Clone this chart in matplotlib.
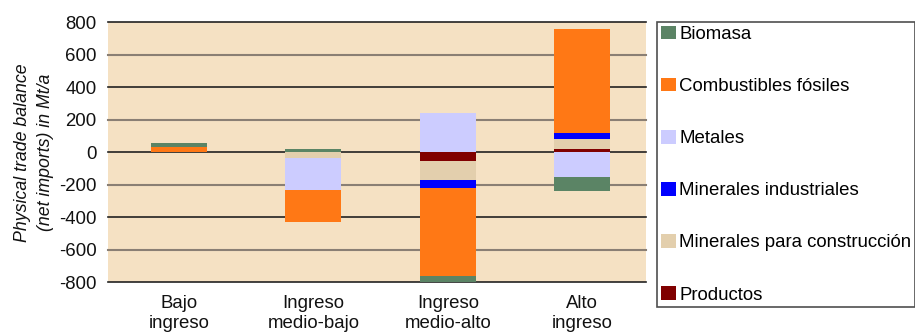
import matplotlib
matplotlib.use("Agg")
import matplotlib.pyplot as plt
import numpy as np
from matplotlib.patches import Patch

plt.rcParams['font.family'] = ['Liberation Sans', 'DejaVu Sans']

categories = ["Bajo\ningreso", "Ingreso\nmedio-bajo", "Ingreso\nmedio-alto", "Alto\ningreso"]

# series values (Mt/a), legend order
biomasa = [24, 20, -38, -86]
combustibles = [33, -197, -545, 640]
metales = [0, -199, 240, -150]
minerales_industriales = [0, 0, -50, 39]
minerales_construccion = [0, -33, -112, 58]
productos = [0, 0, -55, 22]

legend_labels = ["Biomasa", "Combustibles fósiles", "Metales", "Minerales industriales",
                 "Minerales para construcción", "Productos"]
colors = ["#5B8465", "#FF7815", "#CCCCFF", "#0000FF", "#E3CFAD", "#800000"]
series = [biomasa, combustibles, metales, minerales_industriales, minerales_construccion, productos]

yticks = [800, 600, 400, 200, 0, -200, -400, -600, -800]

fig = plt.figure(figsize=(9.15, 3.33), dpi=100)
ax = fig.add_axes([0.118, 0.1517, 0.7057 - 0.118, 0.933 - 0.1517])
ax.set_facecolor("#F5E1C3")

x = np.arange(len(categories))
width = 0.417

# stacking order (Excel series order): Productos first ... Biomasa last
order = [5, 4, 3, 2, 1, 0]
pos_bottom = np.zeros(len(categories))
neg_bottom = np.zeros(len(categories))
for i in order:
    vals = np.array(series[i], dtype=float)
    pos = np.where(vals > 0, vals, 0)
    neg = np.where(vals < 0, vals, 0)
    ax.bar(x, pos, width, bottom=pos_bottom, color=colors[i], zorder=3, linewidth=0)
    ax.bar(x, neg, width, bottom=neg_bottom, color=colors[i], zorder=3, linewidth=0)
    pos_bottom += pos
    neg_bottom += neg

ax.set_xlim(-0.53, 3.474)
ax.set_ylim(-800, 800)
ax.set_yticks(yticks)
ax.set_yticklabels([str(t) for t in yticks])
ax.set_xticks(x)
ax.set_xticklabels(categories)
ax.tick_params(axis='both', length=0, labelsize=13.4, colors="#111111")
ax.tick_params(axis='y', pad=8)
ax.tick_params(axis='x', pad=9)

for s in ax.spines.values():
    s.set_visible(False)

for t in yticks:
    c = "#222222" if t % 400 == 0 else "#8A7F74"
    lw = 1.2 if t % 400 == 0 else 1.5
    ax.axhline(t, color=c, lw=lw, zorder=1, clip_on=False)

ax.set_ylabel("Physical trade balance\n(net imports) in Mt/a", fontsize=12.8,
              style='italic', color="#111111", linespacing=1.5)
ax.yaxis.set_label_coords(-0.1, 0.5)

handles = [Patch(facecolor=c, edgecolor='none') for c in colors]
leg = fig.legend(handles, legend_labels, loc='upper left',
                 bbox_to_anchor=(657 / 915, 1 - 22 / 333),
                 fontsize=13.4, frameon=True, fancybox=False, shadow=False,
                 labelspacing=1.87, handlelength=0.8, handleheight=0.75,
                 handletextpad=0.2, borderpad=0.2, borderaxespad=0)
leg.get_frame().set_edgecolor("#222222")
leg.get_frame().set_linewidth(1.2)

fig.savefig("out.png", dpi=100)
